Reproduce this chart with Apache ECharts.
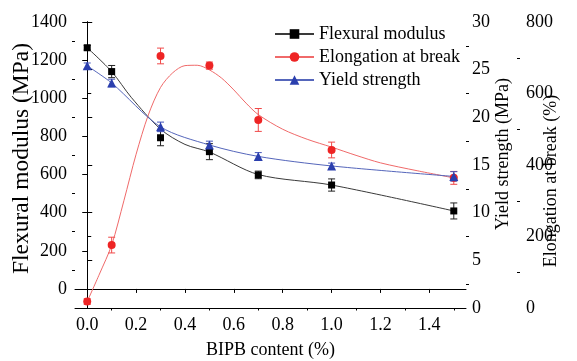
<!DOCTYPE html>
<html>
<head>
<meta charset="utf-8">
<script src="https://cdn.jsdelivr.net/npm/echarts@6/dist/echarts.min.js"></script>
<style>html,body{margin:0;padding:0;background:#fff;}#c{width:577px;height:361px;}</style>
</head>
<body>
<div id="c"></div>
<script>
// ---- data ----
const xs = [0, 0.1, 0.3, 0.5, 0.7, 1.0, 1.5];
const flexural = [1265, 1140, 793, 720, 598, 545, 409];
const flexuralErr = [12, 32, 42, 42, 20, 32, 42];
const yieldStrength = [25.4, 23.6, 19.0, 17.1, 15.9, 14.9, 13.8];
const yieldErr = [0.3, 0.4, 0.5, 0.4, 0.4, 0.3, 0.5];
const elongation = [18, 176, 705, 678, 526, 442, 364];
const elongationErr = [8, 22, 22, 10, 32, 22, 18];
// fitted curves
const flexFitX = [0, 0.1, 0.18, 0.3, 0.4, 0.5, 0.7, 1.0, 1.5];
const flexFit = [1265, 1140, 1005, 838, 758, 718, 600, 545, 409];
const elongFitX = [0, 0.05, 0.1, 0.15, 0.2, 0.25, 0.3, 0.35, 0.4, 0.45, 0.5, 0.55, 0.6, 0.65, 0.7, 0.8, 0.9, 1.0, 1.1, 1.2, 1.35, 1.5];
const elongFit = [18, 95, 176, 300, 430, 540, 617, 658, 678, 679, 666, 643, 610, 573, 541, 500, 472, 450, 427, 406, 384, 364];
// tick labels
const xTicks = [0, 0.2, 0.4, 0.6, 0.8, 1.0, 1.2, 1.4];
const xMinor = [0.1, 0.3, 0.5, 0.7, 0.9, 1.1, 1.3, 1.5];
const leftTicks = [0, 200, 400, 600, 800, 1000, 1200, 1400];
const leftMinor = [100, 300, 500, 700, 900, 1100, 1300];
const yieldMinor = [2.5, 7.5, 12.5, 17.5, 22.5, 27.5];
const elongMinor = [100, 300, 500, 700];
const names = ['Flexural modulus', 'Elongation at break', 'Yield strength'];

const FONT = '"Liberation Serif", "Times New Roman", serif';
const BLACK = '#000000', RED = '#ee2424', BLUE = '#2b3fae';

function errSeries(yIdx, vals, errs, color) {
  return {
    type: 'custom', xAxisIndex: 0, yAxisIndex: yIdx, silent: true, z: 3,
    data: xs.map((x, i) => [x, vals[i], errs[i]]),
    encode: { x: 0, y: 1 },
    renderItem(params, api) {
      const x = api.value(0), y = api.value(1), e = api.value(2);
      const hi = api.coord([x, y + e]), lo = api.coord([x, y - e]);
      const w = 3.5;
      const st = { stroke: color, lineWidth: 1 };
      return { type: 'group', children: [
        { type: 'line', shape: { x1: hi[0], y1: hi[1], x2: lo[0], y2: lo[1] }, style: st },
        { type: 'line', shape: { x1: hi[0] - w, y1: hi[1], x2: hi[0] + w, y2: hi[1] }, style: st },
        { type: 'line', shape: { x1: lo[0] - w, y1: lo[1], x2: lo[0] + w, y2: lo[1] }, style: st }
      ]};
    }
  };
}

const axisLineStyle = { lineStyle: { color: '#000', width: 1 } };
const labelStyle = { color: '#000', fontFamily: FONT, fontSize: 18, formatter: v => String(v) };
const nameStyle = { color: '#000', fontFamily: FONT, fontSize: 18 };

function minorAxis(base) {
  return Object.assign({
    type: 'value', axisLine: { show: false }, axisLabel: { show: false },
    splitLine: { show: false }
  }, base);
}

const option = {
  animation: false,
  backgroundColor: '#fff',
  textStyle: { fontFamily: FONT },
  grid: { left: 75, right: 111, top: 22, bottom: 53, containLabel: false, outerBoundsMode: 'none' },
  legend: {
    data: names, orient: 'vertical', left: 274, top: 25, padding: 0,
    itemWidth: 39, itemHeight: 12, itemGap: 5,
    textStyle: { color: '#000', fontFamily: FONT, fontSize: 18 },
    backgroundColor: 'transparent'
  },
  xAxis: [
    {
      type: 'value', position: 'bottom', min: -0.05, max: 1.55,
      name: 'BIPB content (%)', nameLocation: 'middle', nameGap: 33, nameMoveOverlap: false,
      nameTextStyle: nameStyle,
      axisLine: axisLineStyle,
      axisTick: { show: true, length: 4, customValues: xTicks, lineStyle: { color: '#000' } },
      axisLabel: Object.assign({}, labelStyle, { customValues: xTicks, margin: 8, formatter: v => v.toFixed(1) }),
      splitLine: { show: false }
    },
    minorAxis({ position: 'bottom', min: -0.05, max: 1.55,
      axisTick: { show: true, length: 2.5, customValues: xMinor, lineStyle: { color: '#000' } } }),
    { type: 'value', position: 'top', min: -0.05, max: 1.55, axisLine: axisLineStyle,
      axisTick: { show: false }, axisLabel: { show: false }, splitLine: { show: false } }
  ],
  yAxis: [
    {
      type: 'value', position: 'left', min: -100, max: 1400,
      name: 'Flexural modulus (MPa)', nameLocation: 'middle', nameGap: 41, nameRotate: 90,
      nameMoveOverlap: false,
      nameTextStyle: Object.assign({}, nameStyle, { fontSize: 23.5, padding: [0, 0, 0, 13] }),
      axisLine: { show: true, lineStyle: { color: '#000' } },
      axisTick: { show: true, length: 5, customValues: leftTicks, lineStyle: { color: '#000' } },
      axisLabel: Object.assign({}, labelStyle, { customValues: leftTicks, margin: 8 }),
      splitLine: { show: false }
    },
    {
      type: 'value', position: 'right', min: 0, max: 30, interval: 5,
      name: 'Yield strength (MPa)', nameLocation: 'middle', nameGap: 28, nameRotate: 90,
      nameMoveOverlap: false,
      nameTextStyle: Object.assign({}, nameStyle, { padding: [0, 0, 0, 22] }),
      axisLine: { show: true, lineStyle: { color: '#000' } },
      axisTick: { show: true, length: 5, lineStyle: { color: '#000' } },
      axisLabel: Object.assign({}, labelStyle, { margin: 6 }),
      splitLine: { show: false }
    },
    {
      type: 'value', position: 'right', offset: 54, min: 0, max: 800, interval: 200,
      name: 'Elongation at break (%)', nameLocation: 'middle', nameGap: 22, nameRotate: 90,
      nameMoveOverlap: false,
      nameTextStyle: Object.assign({}, nameStyle, { padding: [0, 32, 0, 0] }),
      axisLine: { show: true, lineStyle: { color: '#000' } },
      axisTick: { show: true, length: 4, lineStyle: { color: '#000' } },
      axisLabel: Object.assign({}, labelStyle, { margin: 6 }),
      splitLine: { show: false }
    },
    minorAxis({ position: 'left', min: -100, max: 1400,
      axisTick: { show: true, length: 3, customValues: leftMinor, lineStyle: { color: '#000' } } }),
    minorAxis({ position: 'right', min: 0, max: 30,
      axisTick: { show: true, length: 3, customValues: yieldMinor, lineStyle: { color: '#000' } } }),
    minorAxis({ position: 'right', offset: 54, min: 0, max: 800,
      axisTick: { show: true, length: 3, inside: true, customValues: elongMinor, lineStyle: { color: '#000' } } })
  ],
  series: [
    {
      name: names[0], type: 'line', xAxisIndex: 0, yAxisIndex: 0,
      data: flexFitX.map((x, i) => ({ value: [x, flexFit[i]], symbol: 'none' })),
      smooth: 0.3, symbol: 'rect', symbolSize: 7, z: 2,
      lineStyle: { color: '#3a3a3a', width: 1 }, itemStyle: { color: BLACK }
    },
    {
      name: names[0], type: 'scatter', xAxisIndex: 0, yAxisIndex: 0, z: 4,
      data: xs.map((x, i) => [x, flexural[i]]), symbol: 'rect', symbolSize: 7,
      itemStyle: { color: BLACK, opacity: 1 }
    },
    {
      name: names[1], type: 'line', xAxisIndex: 0, yAxisIndex: 2,
      data: elongFitX.map((x, i) => ({ value: [x, elongFit[i]], symbol: 'none' })),
      smooth: 0.3, symbol: 'circle', symbolSize: 7, z: 2,
      lineStyle: { color: '#f06a6a', width: 1 }, itemStyle: { color: RED }
    },
    {
      name: names[1], type: 'scatter', xAxisIndex: 0, yAxisIndex: 2, z: 4,
      data: xs.map((x, i) => [x, elongation[i]]), symbol: 'circle', symbolSize: 8,
      itemStyle: { color: RED, opacity: 1 }
    },
    {
      name: names[2], type: 'line', xAxisIndex: 0, yAxisIndex: 1,
      data: xs.map((x, i) => [x, yieldStrength[i]]),
      smooth: 0.3, symbol: 'triangle', symbolSize: 9, z: 4, showSymbol: true,
      lineStyle: { color: '#5566bb', width: 1 }, itemStyle: { color: BLUE }
    },
    errSeries(0, flexural, flexuralErr, '#222'),
    errSeries(2, elongation, elongationErr, '#f04848'),
    errSeries(1, yieldStrength, yieldErr, '#4455bb')
  ]
};
echarts.init(document.getElementById('c'), null, { renderer: 'canvas' }).setOption(option);
</script>
</body>
</html>
